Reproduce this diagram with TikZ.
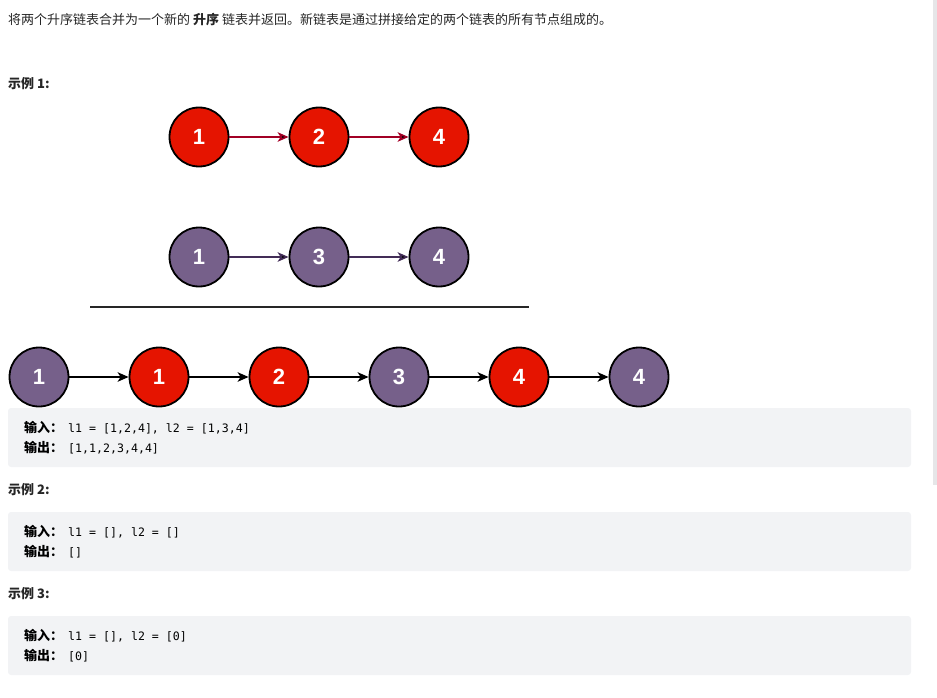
\documentclass[tikz,border=0pt]{standalone}
\usepackage{fontspec}
\setmainfont{Noto Sans CJK SC}
\newfontfamily\numfont{Liberation Sans}
\newfontfamily\codefont{DejaVu Sans Mono}
\usetikzlibrary{positioning, arrows.meta}

\definecolor{nodered}{HTML}{E51400}
\definecolor{nodepurple}{HTML}{76608A}
\definecolor{linkred}{HTML}{A20025}
\definecolor{linkpurple}{HTML}{432D57}
\definecolor{textgray}{HTML}{262626}
\definecolor{codebg}{HTML}{F2F3F5}
\definecolor{scrollgray}{HTML}{E6E6E8}

\newcommand{\codetext}[1]{{\mdseries\codefont\fontsize{11.6}{11.6}\selectfont #1}}

\begin{document}
\begin{tikzpicture}
	[x=1pt, y=-1pt, on grid, node distance=120pt,
	 >={Stealth[length=11pt,width=9.5pt,inset=3pt]},
	 listnode/.style={circle, draw=black, line width=1.8pt, minimum size=59pt, inner sep=0pt,
	   text=white, font=\numfont\bfseries\fontsize{22}{22}\selectfont},
	 rednode/.style={listnode, fill=nodered},
	 purplenode/.style={listnode, fill=nodepurple},
	 link/.style={->, line width=1.5pt},
	 body/.style={anchor=west, inner sep=0pt, text=textgray, font=\fontsize{13}{13}\selectfont},
	 heading/.style={body, font=\bfseries\fontsize{13}{13}\selectfont},
	 codebox/.style={fill=codebg, rounded corners=3pt},
	 codeline/.style={anchor=west, inner sep=0pt, text=black, font=\bfseries\fontsize{13}{13}\selectfont}]
   \useasboundingbox (0,0) rectangle (937,698);
   \fill[scrollgray] (933,0) rectangle (937,485);
   % text
   \node[body] (intro) at (8,20) {将两个升序链表合并为一个新的 \textbf{升序} 链表并返回。新链表是通过拼接给定的两个链表的所有节点组成的。};
   \node[heading] (ex1) at (8,84) {示例 1:};
   \node[heading] (ex2) at (8,490) {示例 2:};
   \node[heading] (ex3) at (8,594) {示例 3:};
   % list l1
   \node[rednode] (a_1) at (199,137) {1};
   \node[rednode] (a_2) [right=of a_1] {2};
   \node[rednode] (a_3) [right=of a_2] {4};
   % list l2
   \node[purplenode] (b_1) at (199,257) {1};
   \node[purplenode] (b_2) [right=of b_1] {3};
   \node[purplenode] (b_3) [right=of b_2] {4};
   \coordinate (rule_l) at (90,307);
   \coordinate (rule_r) at (529,307);
   \draw[line width=1.5pt, black!85] (rule_l) -- (rule_r);
   % merged list
   \node[purplenode] (m_1) at (39,377) {1};
   \node[rednode] (m_2) [right=of m_1] {1};
   \node[rednode] (m_3) [right=of m_2] {2};
   \node[purplenode] (m_4) [right=of m_3] {3};
   \node[rednode] (m_5) [right=of m_4] {4};
   \node[purplenode] (m_6) [right=of m_5] {4};
   \path[link, draw=linkred]
    (a_1) edge (a_2)
    (a_2) edge (a_3);
   \path[link, draw=linkpurple]
    (b_1) edge (b_2)
    (b_2) edge (b_3);
   \path[link, draw=black]
    (m_1) edge (m_2)
    (m_2) edge (m_3)
    (m_3) edge (m_4)
    (m_4) edge (m_5)
    (m_5) edge (m_6);
   % code boxes
   \fill[codebox] (8,408) rectangle (911,467);
   \fill[codebox] (8,512) rectangle (911,571);
   \fill[codebox] (8,616) rectangle (911,675);
   \node[codeline] (in1) at (24,428) {输入：\hspace{5pt}\codetext{l1 = [1,2,4], l2 = [1,3,4]}};
   \node[codeline] (out1) at (24,448) {输出：\hspace{5pt}\codetext{[1,1,2,3,4,4]}};
   \node[codeline] (in2) at (24,532) {输入：\hspace{5pt}\codetext{l1 = [], l2 = []}};
   \node[codeline] (out2) at (24,552) {输出：\hspace{5pt}\codetext{[]}};
   \node[codeline] (in3) at (24,636) {输入：\hspace{5pt}\codetext{l1 = [], l2 = [0]}};
   \node[codeline] (out3) at (24,656) {输出：\hspace{5pt}\codetext{[0]}};
\end{tikzpicture}
\end{document}
